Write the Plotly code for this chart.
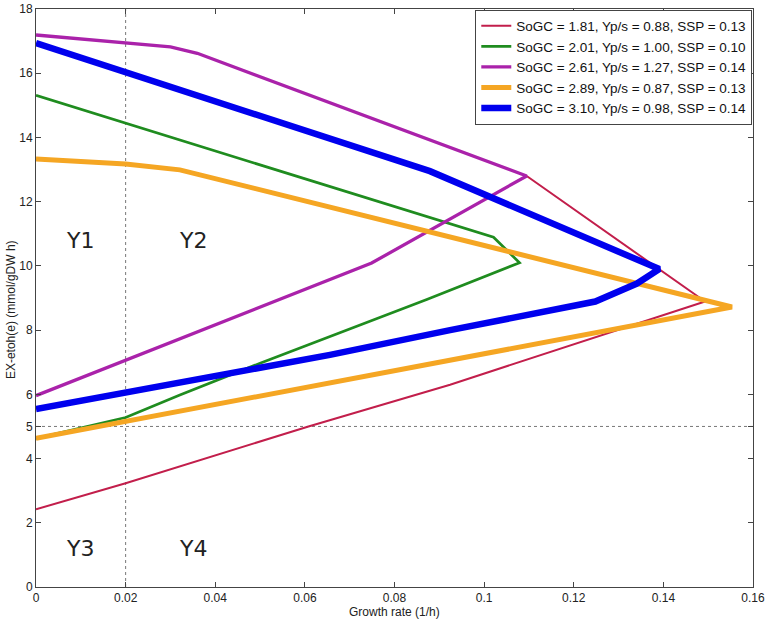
import plotly.graph_objects as go

# ---- data ----
names = [
    "SoGC = 1.81, Yp/s = 0.88, SSP = 0.13",
    "SoGC = 2.01, Yp/s = 1.00, SSP = 0.10",
    "SoGC = 2.61, Yp/s = 1.27, SSP = 0.14",
    "SoGC = 2.89, Yp/s = 0.87, SSP = 0.13",
    "SoGC = 3.10, Yp/s = 0.98, SSP = 0.14",
]

red_x = [0.0, 0.02, 0.0608, 0.0924, 0.1493, 0.1095]
red_y = [2.42, 3.23, 5.0, 6.30, 8.89, 12.8]

green_x = [0.0, 0.015, 0.02, 0.0321, 0.05, 0.0872, 0.1079, 0.1021, 0.0]
green_y = [4.63, 5.10, 5.28, 5.98, 6.97, 8.95, 10.1, 10.89, 15.31]

magenta_x = [0.0, 0.02, 0.0749, 0.1095, 0.036, 0.03, 0.02, 0.0]
magenta_y = [5.96, 7.07, 10.09, 12.8, 16.62, 16.82, 16.95, 17.19]

orange_x = [0.0, 0.1553, 0.0321, 0.02, 0.0]
orange_y = [4.63, 8.72, 12.99, 13.17, 13.33]

blue_x = [0.0, 0.02, 0.0656, 0.0924, 0.1248, 0.1341, 0.1391, 0.0879, 0.02, 0.0]
blue_y = [5.54, 6.04, 7.23, 8.0, 8.89, 9.45, 9.9, 12.95, 16.05, 16.94]

x_ticks = [0, 0.02, 0.04, 0.06, 0.08, 0.1, 0.12, 0.14, 0.16]
x_tick_labels = ["0", "0.02", "0.04", "0.06", "0.08", "0.1", "0.12", "0.14", "0.16"]
y_ticks = [0, 2, 4, 5, 6, 8, 10, 12, 14, 16, 18]

region_labels = ["Y1", "Y2", "Y3", "Y4"]
region_x = [0.0098, 0.0351, 0.0098, 0.0351]
region_y = [10.8, 10.8, 1.2, 1.2]

split_x = 0.02
split_y = 5

x_title = "Growth rate (1/h)"
y_title = "EX-etoh(e) (mmol/gDW h)"

series = [
    (red_x, red_y, "#C21E4B", 2),
    (green_x, green_y, "#1F8C1F", 2.7),
    (magenta_x, magenta_y, "#AA22AA", 3.3),
    (orange_x, orange_y, "#F5A623", 5),
    (blue_x, blue_y, "#0000EE", 6.5),
]

fig = go.Figure()

# dotted separators
fig.add_trace(go.Scatter(x=[split_x, split_x], y=[0, 18], mode="lines",
                         line=dict(color="#777777", width=1, dash="dot"),
                         showlegend=False, hoverinfo="skip"))
fig.add_trace(go.Scatter(x=[0, 0.16], y=[split_y, split_y], mode="lines",
                         line=dict(color="#777777", width=1, dash="dot"),
                         showlegend=False, hoverinfo="skip"))

for (xs, ys, col, w), nm in zip(series, names):
    fig.add_trace(go.Scatter(x=xs, y=ys, mode="lines", name=nm,
                             line=dict(color=col, width=w)))

for t, xx, yy in zip(region_labels, region_x, region_y):
    fig.add_annotation(x=xx, y=yy, text=t, showarrow=False,
                       font=dict(family="DejaVu Sans", size=22, color="#222222"))

# axis titles as annotations for exact placement
fig.add_annotation(x=0.5, y=-0.027, xref="paper", yref="paper", text=x_title,
                   showarrow=False, xanchor="center", yanchor="top",
                   font=dict(family="Liberation Sans, Arial", size=12, color="#222222"))
fig.add_annotation(x=-0.0355, y=0.48, xref="paper", yref="paper", text=y_title,
                   showarrow=False, textangle=-90, xanchor="center", yanchor="middle",
                   font=dict(family="Liberation Sans, Arial", size=12, color="#222222"))

axis_common = dict(showline=True, linecolor="#444444", linewidth=1, mirror="ticks",
                   ticks="inside", ticklen=5, tickcolor="#444444",
                   showgrid=False, zeroline=False, automargin=False,
                   tickfont=dict(family="Liberation Sans, Arial", size=12, color="#222222"))

fig.update_layout(
    width=768, height=622,
    margin=dict(l=36, r=15, t=9, b=35),
    paper_bgcolor="white", plot_bgcolor="white",
    font=dict(family="Liberation Sans, Arial", size=12, color="#222222"),
    xaxis=dict(range=[0, 0.16], tickvals=x_ticks, ticktext=x_tick_labels, **axis_common),
    yaxis=dict(range=[0, 18], tickvals=y_ticks, **axis_common),
    legend=dict(x=0.999, y=0.999, xanchor="right", yanchor="top",
                bgcolor="white", bordercolor="#444444", borderwidth=1,
                font=dict(family="Liberation Sans, Arial", size=13.5, color="#111111"),
                tracegroupgap=0, itemwidth=30),
    showlegend=True,
)

fig.write_html("out.html", config={"displayModeBar": False},
               post_script="document.body.style.margin='0';document.body.style.overflow='hidden';")
